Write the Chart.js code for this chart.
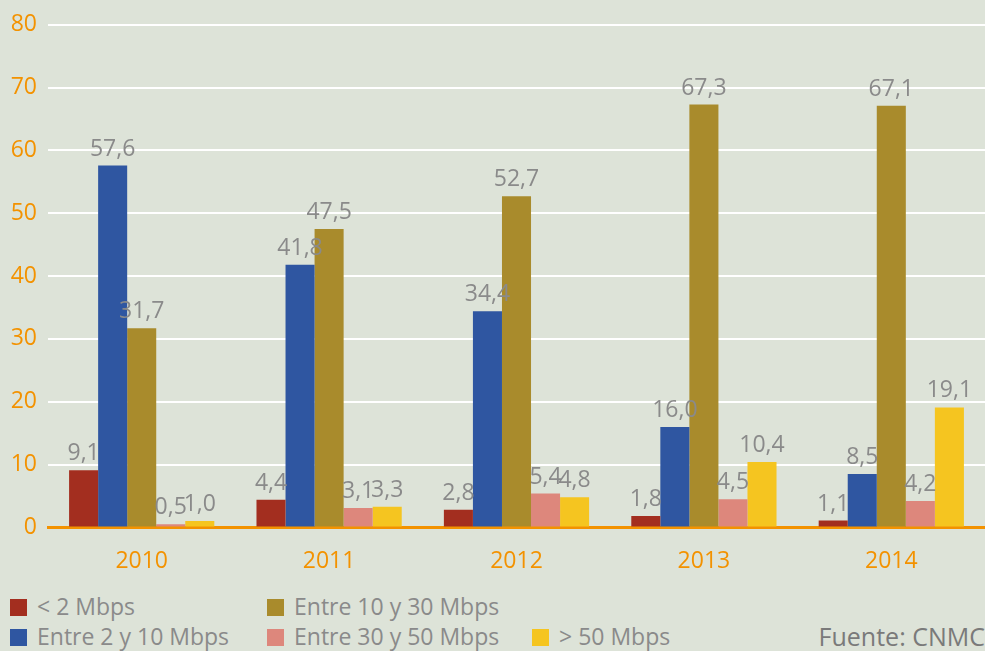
<!DOCTYPE html>
<html>
<head>
<meta charset="utf-8">
<script src="https://cdn.jsdelivr.net/npm/chart.js@4.4.1/dist/chart.umd.min.js"></script>
<style>
  body { margin: 0; background: #dde3d8; font-family: "Open Sans", sans-serif; }
  #wrap { position: relative; width: 985px; height: 651px; overflow: hidden; }
  #box { position: absolute; left: 0; top: 0; width: 985px; height: 587px; }
  .leg { position: absolute; font-size: 23px; color: #8a8a8a; line-height: 24px; white-space: nowrap; }
  .leg span { display: inline-block; width: 17px; height: 17px; margin-right: 10px; vertical-align: -1px; }
  #src { position: absolute; right: 0; top: 621px; font-size: 25px; line-height: 30px; color: #7a7a7a; }
</style>
</head>
<body>
<div id="wrap">
  <div id="box"><canvas id="chart"></canvas></div>
  <div id="legend"></div>
  <div id="src">Fuente: CNMC</div>
</div>
<script>
const years = ['2010', '2011', '2012', '2013', '2014'];
const seriesNames = ['< 2 Mbps', 'Entre 2 y 10 Mbps', 'Entre 10 y 30 Mbps', 'Entre 30 y 50 Mbps', '> 50 Mbps'];
const lessThan2 = [9.1, 4.4, 2.8, 1.8, 1.1];
const from2to10 = [57.6, 41.8, 34.4, 16.0, 8.5];
const from10to30 = [31.7, 47.5, 52.7, 67.3, 67.1];
const from30to50 = [0.5, 3.1, 5.4, 4.5, 4.2];
const moreThan50 = [1.0, 3.3, 4.8, 10.4, 19.1];
const colors = ['#a32e1f', '#2f56a1', '#a98b2c', '#dd877c', '#f5c520'];

const allSeries = [lessThan2, from2to10, from10to30, from30to50, moreThan50];
const orange = '#f39200';

// legend positions follow the reference: two rows, three columns
const legendPos = [[10, 594], [10, 624], [267, 594], [267, 624], [532, 624]];
const legendDiv = document.getElementById('legend');
seriesNames.forEach((name, i) => {
    const d = document.createElement('div');
    d.className = 'leg';
    d.style.left = legendPos[i][0] + 'px';
    d.style.top = legendPos[i][1] + 'px';
    d.innerHTML = `<span style="background:${colors[i]}"></span>`;
    d.appendChild(document.createTextNode(name));
    legendDiv.appendChild(d);
});

const valueLabels = {
    id: 'valueLabels',
    afterDatasetsDraw(chart) {
        const ctx = chart.ctx;
        ctx.save();
        ctx.font = '23px "Open Sans"';
        ctx.fillStyle = '#8a8a8a';
        ctx.textAlign = 'center';
        ctx.textBaseline = 'bottom';
        chart.data.datasets.forEach((ds, i) => {
            const meta = chart.getDatasetMeta(i);
            meta.data.forEach((bar, j) => {
                const txt = ds.data[j].toFixed(1).replace('.', ',');
                ctx.fillText(txt, bar.x, bar.y - 5);
            });
        });
        ctx.restore();
    }
};

new Chart(document.getElementById('chart'), {
    type: 'bar',
    data: {
        labels: years,
        datasets: allSeries.map((vals, i) => ({
            label: seriesNames[i],
            data: vals,
            backgroundColor: colors[i],
            barPercentage: 1,
            categoryPercentage: 0.775
        }))
    },
    options: {
        responsive: true,
        maintainAspectRatio: false,
        animation: false,
        layout: { padding: { top: 9, right: 0, left: 0, bottom: 0 } },
        plugins: {
            legend: { display: false },
            tooltip: { enabled: false }
        },
        scales: {
            x: {
                grid: { display: false },
                border: { color: orange, width: 3 },
                ticks: { color: orange, font: { family: 'Open Sans', size: 23 }, padding: 12 }
            },
            y: {
                min: 0,
                max: 80,
                afterFit: function (scale) { scale.width = 48; },
                border: { display: false },
                grid: {
                    color: ctx => ctx.tick.value === 0 ? orange : '#ffffff',
                    lineWidth: 2,
                    drawTicks: false
                },
                ticks: {
                    stepSize: 10,
                    color: orange,
                    font: { family: 'Open Sans', size: 23 },
                    padding: 11
                }
            }
        }
    },
    plugins: [valueLabels]
});
</script>
</body>
</html>
